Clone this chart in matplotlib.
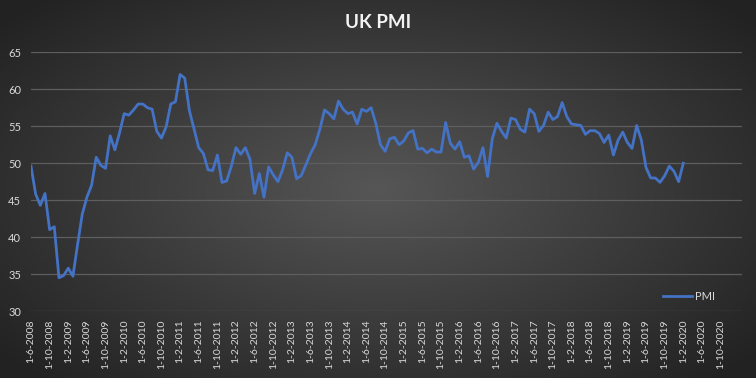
import numpy as np
import matplotlib
matplotlib.use('Agg')
import matplotlib.pyplot as plt
from matplotlib.colors import LinearSegmentedColormap

plt.rcParams['font.family'] = ['Lato', 'DejaVu Sans']

# 月度数据，从 1-6-2008 开始
pmi = [49.6, 45.8, 44.3, 45.9, 41.0, 41.4, 34.5, 34.8, 35.8, 34.7,
       39.0, 43.1, 45.4, 47.0, 50.8, 49.7, 49.3, 53.7, 51.8, 54.1,
       56.7, 56.5, 57.2, 58.0, 58.0, 57.5, 57.3, 54.3, 53.4, 54.9,
       58.0, 58.3, 62.0, 61.5, 57.1, 54.6, 52.1, 51.3, 49.1, 49.0,
       51.1, 47.4, 47.6, 49.6, 52.1, 51.2, 52.1, 50.5, 45.9, 48.6,
       45.4, 49.5, 48.4, 47.5, 49.1, 51.4, 50.8, 47.9, 48.3, 49.8,
       51.3, 52.5, 54.6, 57.2, 56.7, 56.0, 58.4, 57.3, 56.7, 56.9,
       55.3, 57.3, 57.0, 57.5, 55.4, 52.5, 51.6, 53.3, 53.5, 52.5,
       53.0, 54.1, 54.4, 51.9, 52.0, 51.4, 51.9, 51.5, 51.5, 55.5,
       52.7, 51.9, 52.9, 50.8, 51.0, 49.2, 50.1, 52.1, 48.2, 53.3,
       55.4, 54.3, 53.4, 56.1, 55.9, 54.6, 54.2, 57.3, 56.7, 54.3,
       55.1, 56.9, 55.9, 56.3, 58.2, 56.3, 55.3, 55.2, 55.1, 53.9,
       54.4, 54.4, 54.0, 52.8, 53.8, 51.1, 53.1, 54.2, 52.8, 52.0,
       55.1, 53.1, 49.4, 48.0, 48.0, 47.4, 48.3, 49.6, 48.9, 47.5,
       50.0]
start_year, start_month = 2008, 6
n_axis_months = 152.6

y_ticks = [30, 35, 40, 45, 50, 55, 60, 65]

# x 轴标签：每 4 个月一个
tick_pos = list(range(0, 149, 4))
tick_labels = []
for k in tick_pos:
    mm = start_month - 1 + k
    tick_labels.append('1-%d-%d' % (mm % 12 + 1, start_year + mm // 12))

fig = plt.figure(figsize=(7.56, 3.78), dpi=100)

# 背景径向渐变
bg = fig.add_axes([0, 0, 1, 1], zorder=-10)
gx, gy = np.meshgrid(np.linspace(-1, 1, 400), np.linspace(-1, 1, 200))
r = np.sqrt((gx * 0.95) ** 2 + (gy * 0.9) ** 2)
r = np.clip(r / 1.25, 0, 1)
cmap = LinearSegmentedColormap.from_list('bg', ['#565656', '#3c3c3c', '#222222'])
bg.imshow(r, cmap=cmap, aspect='auto', extent=[0, 1, 0, 1], vmin=0, vmax=1)
bg.axis('off')

ax = fig.add_axes([31 / 756, 1 - 311 / 378, 711 / 756, 258.7 / 378])
ax.patch.set_alpha(0)
x = np.arange(len(pmi))
ax.plot(x, pmi, color='#4472C4', linewidth=2, label='PMI', solid_joinstyle='round')

ax.set_xlim(0, n_axis_months)
ax.set_ylim(30, 65)
ax.set_yticks(y_ticks)
ax.set_xticks(tick_pos)
ax.set_xticklabels(tick_labels, rotation=90, fontsize=7.5, color='#d9d9d9')
ax.tick_params(axis='y', length=0, pad=7, labelsize=8, labelcolor='#d9d9d9')
ax.tick_params(axis='x', length=0, pad=6)
ax.grid(axis='y', color='#5e5e5e', linewidth=0.9)
for s in ax.spines.values():
    s.set_visible(False)

fig.text(0.5, 1 - 23 / 378, 'UK PMI', ha='center', va='center',
         fontsize=13.5, fontweight='bold', color='#f2f2f2')

leg = ax.legend(loc='center left', bbox_to_anchor=(663 / 756, 1 - 296 / 378),
                bbox_transform=fig.transFigure, frameon=False, fontsize=8,
                borderpad=0, borderaxespad=0, handlelength=2.6, handletextpad=0.3)
for t in leg.get_texts():
    t.set_color('#d9d9d9')

plt.savefig('out.png', dpi=100)
